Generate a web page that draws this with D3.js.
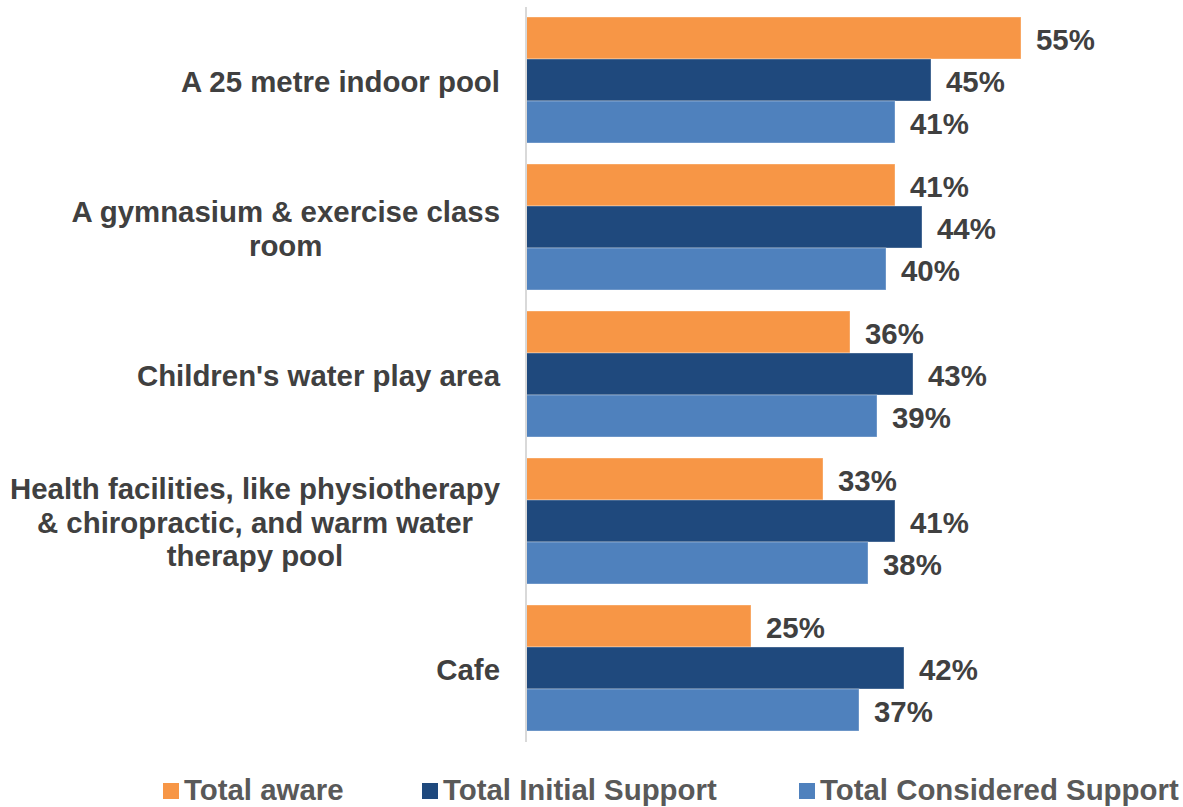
<!DOCTYPE html>
<html>
<head>
<meta charset="utf-8">
<script src="https://cdn.jsdelivr.net/npm/d3@7"></script>
<style>
  body { margin: 0; background: #fff; }
  text { font-family: "Liberation Sans", Arial, sans-serif; font-weight: bold; }
</style>
</head>
<body>
<div class="container"></div>
<script>
const categories = [
  "A 25 metre indoor pool",
  "A gymnasium & exercise class room",
  "Children's water play area",
  "Health facilities, like physiotherapy & chiropractic, and warm water therapy pool",
  "Cafe"
];
const seriesNames = ["Total aware", "Total Initial Support", "Total Considered Support"];
const totalAware = [55, 41, 36, 33, 25];
const totalInitial = [45, 44, 43, 41, 42];
const totalConsidered = [41, 40, 39, 38, 37];
const seriesColors = ["#F79646", "#1F497D", "#4F81BD"];

const WIDTH = 1183, HEIGHT = 807;
const LABEL_RIGHT = 500, LABEL_MAX = 496;
const FONT = 29.4;

const series = [totalAware, totalInitial, totalConsidered];

const svg = d3.select(".container").append("svg")
  .attr("width", WIDTH).attr("height", HEIGHT)
  .attr("viewBox", [0, 0, WIDTH, HEIGHT]);

const x = d3.scaleLinear().domain([0, 60]).range([526, 1066]);
const y = d3.scaleBand().domain(categories).range([6.5, 741.5])
  .paddingInner(1 / 7).paddingOuter(1 / 14);
const ySub = d3.scaleBand().domain(seriesNames).range([0, y.bandwidth()]);

// bars
const groups = svg.append("g").selectAll("g")
  .data(categories)
  .join("g")
  .attr("transform", d => `translate(0,${y(d)})`);

groups.selectAll("rect")
  .data((d, i) => seriesNames.map((s, j) => ({ s, j, v: series[j][i] })))
  .join("rect")
  .attr("x", x(0))
  .attr("y", d => ySub(d.s))
  .attr("width", d => x(d.v) - x(0))
  .attr("height", ySub.bandwidth())
  .attr("fill", d => seriesColors[d.j])
  .attr("stroke", "#fff")
  .attr("stroke-opacity", 0.35)
  .attr("stroke-width", 1);

groups.selectAll("text.val")
  .data((d, i) => seriesNames.map((s, j) => ({ s, j, v: series[j][i] })))
  .join("text")
  .attr("class", "val")
  .attr("x", d => x(d.v) + 15)
  .attr("y", d => ySub(d.s) + ySub.bandwidth() / 2)
  .attr("dy", "0.42em")
  .attr("font-size", FONT)
  .attr("fill", "#404040")
  .text(d => d.v + "%");

// axis line
svg.append("line")
  .attr("x1", x(0)).attr("x2", x(0))
  .attr("y1", 7).attr("y2", 742)
  .attr("stroke", "#d9d9d9").attr("stroke-width", 2);

// category labels, wrapped and centred as a block right-aligned to the axis
const measure = svg.append("text").attr("font-size", FONT);
function textWidth(s) {
  measure.text(s);
  return measure.node().getComputedTextLength();
}
function wrap(label) {
  const words = label.split(" ");
  const lines = [];
  let line = "";
  for (const w of words) {
    const test = line ? line + " " + w : w;
    if (line && textWidth(test) > LABEL_MAX) {
      lines.push(line);
      line = w;
    } else line = test;
  }
  lines.push(line);
  return lines;
}

const lineH = 33.5;
categories.forEach(c => {
  const lines = wrap(c);
  const maxW = d3.max(lines, textWidth);
  const cx = LABEL_RIGHT - maxW / 2;
  const cy = y(c) + y.bandwidth() / 2;
  const t = svg.append("text")
    .attr("font-size", FONT)
    .attr("fill", "#404040")
    .attr("text-anchor", "middle");
  lines.forEach((l, i) => {
    t.append("tspan")
      .attr("x", cx)
      .attr("y", cy + (i - (lines.length - 1) / 2) * lineH)
      .attr("dy", "0.4em")
      .text(l);
  });
});
measure.remove();

// legend
const legendX = [163, 422, 799];
const legend = svg.append("g").selectAll("g")
  .data(seriesNames)
  .join("g")
  .attr("transform", (d, i) => `translate(${legendX[i]},783)`);
legend.append("rect")
  .attr("width", 16).attr("height", 16)
  .attr("fill", (d, i) => seriesColors[i]);
legend.append("text")
  .attr("x", 21).attr("y", 17)
  .attr("font-size", FONT)
  .attr("fill", "#595959")
  .text(d => d);
</script>
</body>
</html>
